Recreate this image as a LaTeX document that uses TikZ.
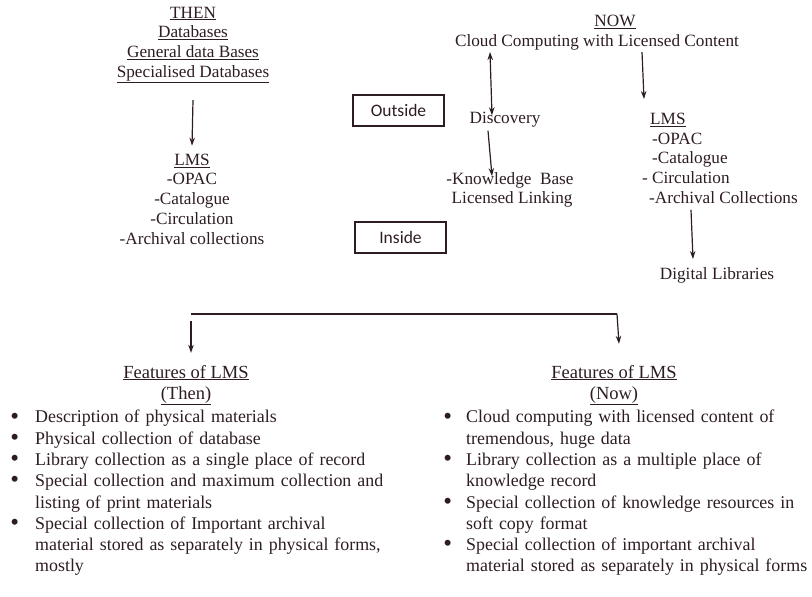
\documentclass[tikz,border=0pt]{standalone}
\usepackage{fontspec}
\setmainfont{Liberation Serif}
\newfontfamily\boxfont{Carlito}
\usetikzlibrary{arrows.meta}
\definecolor{ink}{RGB}{45,28,35}
\newcommand\topsize{\fontsize{17.2}{19.7}\selectfont}
\newcommand\headsize{\fontsize{18.5}{21}\selectfont}
\newcommand\listsize{\fontsize{17.9}{21.3}\selectfont}
\newcommand\bul{\smash{\raisebox{-1.2pt}{\fontsize{25}{25}\selectfont\textbullet}}}
% bullet hanging to the left of the first line of an item
\newcommand\bitem[1][16pt]{\leavevmode\llap{\bul\hspace{#1}}}
\tikzset{
  txt/.style={inner sep=0pt, text=ink, font=\topsize},
  head/.style={inner sep=0pt, text=ink, font=\headsize, align=center},
  tag/.style={draw=ink, line width=1.3pt, minimum width=91pt, minimum height=31pt,
              inner sep=0pt, text=ink, font=\boxfont\fontsize{17.5}{20}\selectfont},
  conn/.style={draw=ink, line width=1.2pt},
  arr/.style={conn, -{Stealth[length=8pt,width=5.5pt]}},
  darr/.style={conn, {Stealth[length=8pt,width=5.5pt]}-{Stealth[length=8pt,width=5.5pt]}},
  listbox/.style={inner sep=0pt, text=ink, font=\listsize, text width=380pt, align=left,
                  anchor=north west}
}
\begin{document}
\begin{tikzpicture}[x=1pt, y=-1pt]
\useasboundingbox (0,0) rectangle (812,597);

% Past: databases feeding the LMS
\node[txt, align=center] (thenhead) at (193,45)
  {\underline{THEN}\\ \underline{Databases}\\ \underline{General data Bases}\\ \underline{Specialised Databases}};
\node[txt, align=center] (lmsthen) at (192,199)
  {\underline{LMS}\\ -OPAC\\ -Catalogue\\ -Circulation\\ -Archival collections};
\draw[arr] ([yshift=-17pt]thenhead.south) -- ([yshift=8pt]lmsthen.north);

% Outside / Inside markers
\node[tag] (outside) at (398.5,110.5) {Outside};
\node[tag] (inside) at (400.5,237.5) {Inside};

% Present: cloud content, discovery and LMS
\node[txt] (now) at (615,22) {\underline{NOW}};
\node[txt] (cloud) at (597,42) {Cloud Computing with Licensed Content};
\node[txt] (discovery) at (505,120) {Discovery};
\node[txt, align=center] (kb) at (510,190) {-Knowledge\ \ Base\\ \ Licensed Linking};
\node[txt, align=left, anchor=north west] (lmsnow) at (642,113)
  {\hspace*{8pt}\underline{LMS}\\ \hspace*{10pt}-OPAC\\ \hspace*{10pt}-Catalogue\\ - Circulation\\ \hspace*{7pt}-Archival Collections};
\node[txt] (digital) at (717,275) {Digital Libraries};

\draw[darr] ([xshift=-107pt,yshift=-2pt]cloud.south) -- ([xshift=-13pt,yshift=-3pt]discovery.north);
\draw[arr] ([xshift=-17pt,yshift=-3pt]discovery.south) -- ([xshift=-18pt,yshift=-4pt]kb.north);
\draw[arr] ([xshift=45pt,yshift=-2pt]cloud.south) -- ([xshift=2pt,yshift=14pt]lmsnow.north west);
\draw[arr] ([xshift=49pt,yshift=-6pt]lmsnow.south west) -- ([xshift=-24pt,yshift=8pt]digital.north);

% Split into the two feature lists
\node[head] (fthen) at (186,385) {\underline{Features of LMS}\\ \underline{(Then)}};
\node[head] (fnow) at (614,385) {\underline{Features of LMS}\\ \underline{(Now)}};
\coordinate (bl) at (191,314);
\coordinate (br) at (617,314);
\draw[conn] (bl) -- (br);
\draw[arr] ([yshift=-7pt]bl) -- ([xshift=5pt,yshift=12pt]fthen.north);
\draw[arr] (br) -- ([xshift=5pt,yshift=21pt]fnow.north);

\node[listbox] (thenlist) at (35,410)
  {\bitem Description of physical materials\\
   \bitem Physical collection of database\\
   \bitem Library collection as a single place of record\\
   \bitem Special collection and maximum collection and\\
   listing of print materials\\
   \bitem Special collection of Important archival\\
   material stored as separately in physical forms,\\
   mostly};
\node[listbox] (nowlist) at (466,410)
  {\bitem[14pt]Cloud computing with licensed content of\\
   tremendous, huge data\\
   \bitem[14pt]Library collection as a multiple place of\\
   knowledge record\\
   \bitem[14pt]Special collection of knowledge resources in\\
   soft copy format\\
   \bitem[14pt]Special collection of important archival\\
   material stored as separately in physical forms};
\end{tikzpicture}
\end{document}
